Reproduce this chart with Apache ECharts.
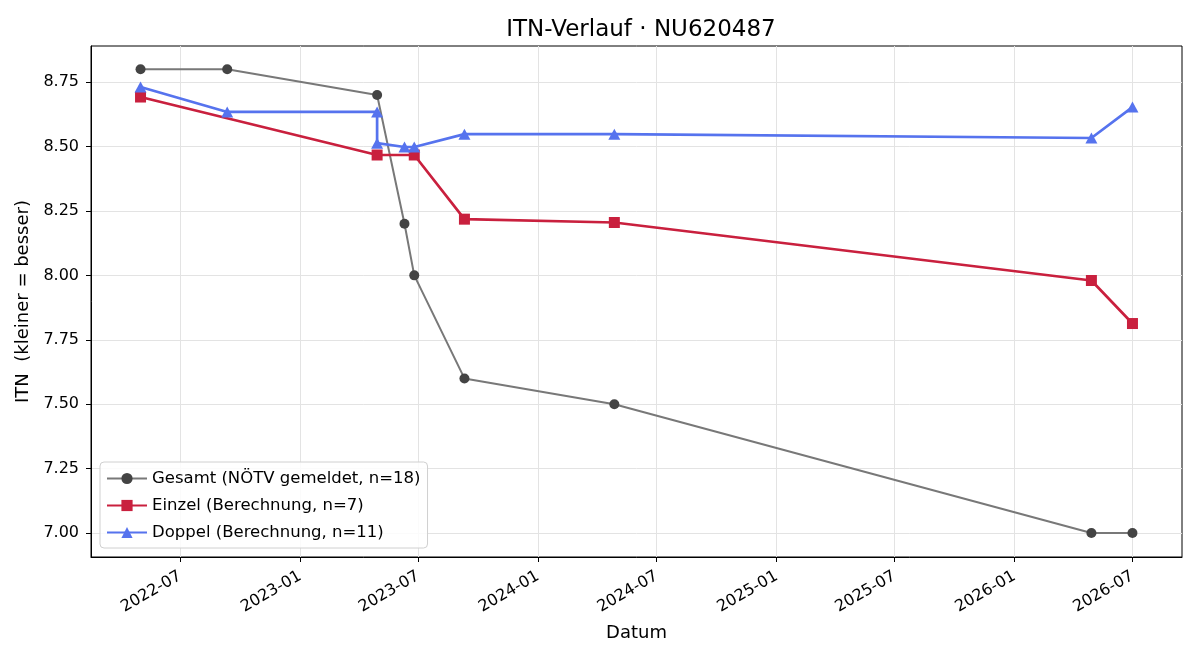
<!DOCTYPE html>
<html>
<head>
<meta charset="utf-8">
<title>ITN-Verlauf</title>
<script src="https://cdn.jsdelivr.net/npm/echarts@6/dist/echarts.min.js"></script>
<style>
html, body { margin: 0; padding: 0; background: #fff; }
#chart { width: 1200px; height: 660px; }
</style>
</head>
<body>
<div id="chart"></div>
<script>
// Daten
var gesamtDates = ['2022-05-01', '2022-09-11', '2023-04-29', '2023-06-10', '2023-06-25', '2023-09-10', '2024-04-27', '2026-04-29', '2026-07-01'];
var gesamtValues = [8.80, 8.80, 8.70, 8.20, 8.00, 7.60, 7.50, 7.00, 7.00];

var einzelDates = ['2022-05-01', '2023-04-29', '2023-06-25', '2023-09-10', '2024-04-27', '2026-04-29', '2026-07-01'];
var einzelValues = [8.692, 8.467, 8.467, 8.218, 8.205, 7.980, 7.813];

var doppelDates = ['2022-05-01', '2022-09-11', '2023-04-29', '2023-04-29', '2023-06-10', '2023-06-25', '2023-09-10', '2024-04-27', '2026-04-29', '2026-07-01'];
var doppelValues = [8.731, 8.634, 8.634, 8.513, 8.498, 8.498, 8.548, 8.548, 8.533, 8.653];

var xTicks = ['2022-07-01', '2023-01-01', '2023-07-01', '2024-01-01', '2024-07-01', '2025-01-01', '2025-07-01', '2026-01-01', '2026-07-01'];
var yTicks = [7.00, 7.25, 7.50, 7.75, 8.00, 8.25, 8.50, 8.75];

function ts(s) {
    var p = s.split('-');
    return Date.UTC(+p[0], +p[1] - 1, +p[2]);
}
function pairs(dates, vals) {
    var out = [];
    for (var i = 0; i < dates.length; i++) out.push([ts(dates[i]), vals[i]]);
    return out;
}
function pad(n) { return n < 10 ? '0' + n : '' + n; }

var font = 'DejaVu Sans';
var xTickVals = xTicks.map(ts);

var myChart = echarts.init(document.getElementById('chart'));
myChart.setOption({
    animation: false,
    textStyle: { fontFamily: font },
    title: {
        text: 'ITN-Verlauf · NU620487',
        left: 636, top: 14, textAlign: 'center',
        textStyle: { fontFamily: font, fontSize: 23, fontWeight: 'normal', color: '#000' }
    },
    grid: {
        left: 91, right: 18, top: 46, bottom: 103,
        show: true, borderColor: '#000', borderWidth: 1, backgroundColor: '#fff'
    },
    legend: {
        orient: 'vertical', left: 100, top: 462,
        padding: [8, 7, 7, 6], itemGap: 10,
        itemWidth: 40, itemHeight: 14,
        backgroundColor: 'rgba(255,255,255,0.85)',
        borderColor: '#d0d0d0', borderWidth: 1, borderRadius: 4,
        textStyle: { fontFamily: font, fontSize: 16.5, color: '#000' },
        data: ['Gesamt (NÖTV gemeldet, n=18)', 'Einzel (Berechnung, n=7)', 'Doppel (Berechnung, n=11)']
    },
    xAxis: {
        type: 'value',
        min: ts('2022-02-14'), max: ts('2026-09-15'),
        name: 'Datum', nameLocation: 'middle', nameGap: 67,
        nameTextStyle: { fontFamily: font, fontSize: 18, color: '#000' },
        axisLine: { show: true, lineStyle: { color: '#000', width: 1 } },
        axisTick: { show: true, length: 5, lineStyle: { color: '#000' }, customValues: xTickVals },
        axisLabel: {
            customValues: xTickVals, rotate: 30, margin: 18,
            fontFamily: font, fontSize: 16, color: '#000',
            formatter: function (v) {
                var d = new Date(v);
                return d.getUTCFullYear() + '-' + pad(d.getUTCMonth() + 1);
            }
        },
        splitLine: { show: true, lineStyle: { color: '#e3e3e3', width: 1 } }
    },
    yAxis: {
        type: 'value',
        min: 6.907, max: 8.890,
        name: 'ITN  (kleiner = besser)', nameLocation: 'middle', nameGap: 57,
        nameTextStyle: { fontFamily: font, fontSize: 18, color: '#000' },
        axisLine: { show: true, lineStyle: { color: '#000', width: 1 } },
        axisTick: { show: true, length: 5, lineStyle: { color: '#000' }, customValues: yTicks },
        axisLabel: {
            customValues: yTicks, margin: 12,
            fontFamily: font, fontSize: 16, color: '#000',
            formatter: function (v) { return v.toFixed(2); }
        },
        splitLine: { show: true, lineStyle: { color: '#e3e3e3', width: 1 } }
    },
    series: [
        {
            name: 'Gesamt (NÖTV gemeldet, n=18)',
            type: 'line',
            data: pairs(gesamtDates, gesamtValues),
            symbol: 'circle', symbolSize: 10,
            lineStyle: { color: '#787878', width: 2 },
            itemStyle: { color: '#444444' },
            z: 2
        },
        {
            name: 'Einzel (Berechnung, n=7)',
            type: 'line',
            data: pairs(einzelDates, einzelValues),
            symbol: 'rect', symbolSize: 11,
            lineStyle: { color: '#c9203e', width: 2.7 },
            itemStyle: { color: '#c9203e' },
            z: 3
        },
        {
            name: 'Doppel (Berechnung, n=11)',
            type: 'line',
            data: pairs(doppelDates, doppelValues),
            symbol: 'triangle', symbolSize: [12, 11],
            lineStyle: { color: '#5673ee', width: 2.7 },
            itemStyle: { color: '#5673ee' },
            z: 4
        }
    ]
});
</script>
</body>
</html>
